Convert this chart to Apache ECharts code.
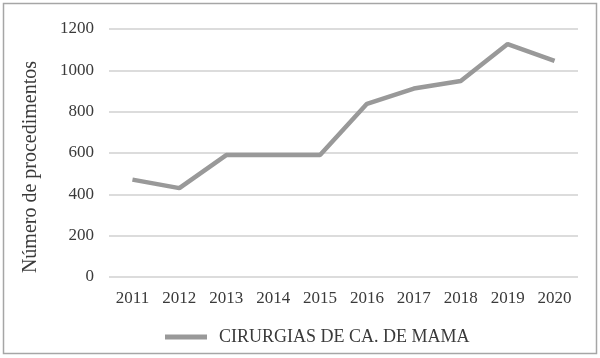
<!DOCTYPE html>
<html>
<head>
<meta charset="utf-8">
<script src="https://cdn.jsdelivr.net/npm/echarts@6/dist/echarts.min.js"></script>
<style>
html,body{margin:0;padding:0;background:#fff;}
#c{width:600px;height:358px;}
</style>
</head>
<body>
<div id="c"></div>
<script>
const categories = ['2011','2012','2013','2014','2015','2016','2017','2018','2019','2020'];
const values = [471, 430, 590, 590, 590, 838, 912, 948, 1127, 1046];
const seriesName = 'CIRURGIAS DE CA. DE MAMA';
const yAxisName = 'Número de procedimentos';

const chart = echarts.init(document.getElementById('c'), null, {renderer:'canvas'});
const font = '"Liberation Serif", "Times New Roman", serif';
chart.setOption({
  animation: false,
  backgroundColor: '#fff',
  graphic: [{
    type: 'rect',
    shape: {x: 3.5, y: 3.5, width: 593, height: 350},
    style: {fill: 'none', stroke: '#a6a6a6', lineWidth: 1.5},
    silent: true
  }],
  grid: {left: 109, right: 22, top: 29, bottom: 81, containLabel: false},
  legend: {
    data: [seriesName],
    bottom: 7,
    left: 160,
    itemWidth: 42,
    itemHeight: 5,
    itemGap: 10,
    icon: 'rect',
    textStyle: {fontFamily: font, fontSize: 18, color: '#3a3a3a', padding: [0,0,0,7]}
  },
  xAxis: {
    type: 'category',
    data: categories,
    boundaryGap: true,
    axisLine: {show: false},
    axisTick: {show: false},
    axisLabel: {fontFamily: font, fontSize: 17, color: '#3a3a3a', margin: 13}
  },
  yAxis: {
    type: 'value',
    min: 0, max: 1200, interval: 200,
    name: yAxisName,
    nameLocation: 'middle',
    nameGap: 68,
    nameTextStyle: {fontFamily: font, fontSize: 20, color: '#3a3a3a', padding: [0, 28, 0, 0]},
    axisLine: {show: false},
    axisTick: {show: false},
    axisLabel: {fontFamily: font, fontSize: 17, color: '#3a3a3a', margin: 15, formatter: v => String(v)},
    splitLine: {lineStyle: {color: '#d0d0d0', width: 1.5}}
  },
  series: [{
    name: seriesName,
    type: 'line',
    data: values,
    showSymbol: false,
    symbol: 'none',
    lineStyle: {color: '#999999', width: 4.5},
    itemStyle: {color: '#999999'}
  }]
});
</script>
</body>
</html>
